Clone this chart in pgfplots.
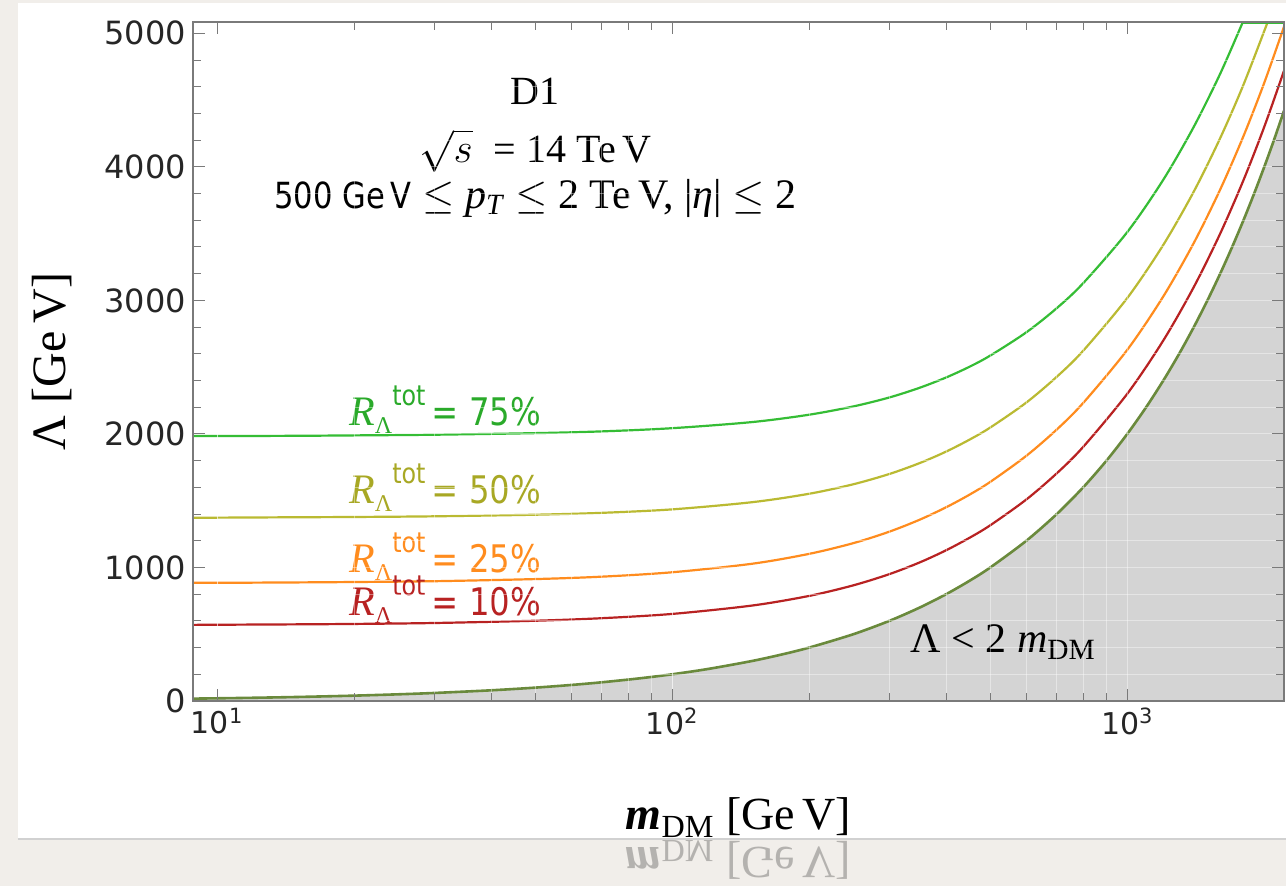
\documentclass[border=0pt]{standalone}
\usepackage{fontspec}
\setmainfont{Liberation Serif}
\setsansfont{DejaVu Sans}
\newfontfamily\condsans[FakeStretch=0.85]{DejaVu Sans}
\usepackage{amsmath}
\usepackage{pgfplots}
\pgfplotsset{compat=1.18}
\definecolor{cgreen}{HTML}{35BD35}
\definecolor{cgreenT}{HTML}{2AAA2A}
\definecolor{cyellow}{HTML}{BABA32}
\definecolor{cyellowT}{HTML}{A8A824}
\definecolor{corange}{HTML}{FF8C1E}
\definecolor{cred}{HTML}{B82222}
\definecolor{cdark}{HTML}{6A8A3C}
\definecolor{cfill}{HTML}{D4D4D4}
\definecolor{bgpaper}{HTML}{F1EEEA}
\definecolor{framegray}{HTML}{7A7A7A}
\newcommand{\RL}[1]{{\fontsize{21}{21}\selectfont\textit{R}}\raisebox{-4pt}{\fontsize{12}{12}\selectfont Λ}\raisebox{10pt}{\condsans\fontsize{14}{14}\selectfont tot}{\condsans\fontsize{19}{19}\selectfont\,= #1\%}}
\begin{document}
\begin{tikzpicture}
\useasboundingbox (-96.5pt,-92.5pt) rectangle (546.5pt,350.5pt);
\fill[bgpaper] (-96.5pt,-92.5pt) rectangle (546.5pt,350.5pt);
\fill[white] (-87.5pt,-69pt) rectangle (546.5pt,349pt);
\draw[black!18, line width=0.7pt] (-87.5pt,-69pt) -- (546.5pt,-69pt);
\begin{scope}
\clip (-87.5pt,-69.4pt) rectangle (546.5pt,-92.5pt);
\node[yscale=-1, anchor=base, opacity=0.25, font=\fontsize{23}{23}\selectfont] at (272.75pt,-73.5pt) {\textbf{\textit{m}}\textsubscript{DM} [Ge\,V]};
\end{scope}
\begin{axis}[
  at={(0,0)}, anchor=south west,
  scale only axis, width=545.5pt, height=339.5pt,
  axis on top,
  xmode=log, xmin=8.85, xmax=2210, ymin=0, ymax=5085,
  axis line style={framegray, line width=0.6pt},
  tick style={framegray, line width=0.5pt},
  tick align=inside,
  major tick length=6pt, minor tick length=4pt,
  xtick={10,100,1000},
  xticklabels={10\textsuperscript{1},10\textsuperscript{2},10\textsuperscript{3}},
  ytick={0,1000,2000,3000,4000,5000},
  minor y tick num=4,
  grid=both,
  grid style={white, opacity=0.4, line width=0.5pt},
  /pgf/number format/1000 sep={},
  /pgf/number format/assume math mode=true,
  ticklabel style={font=\sffamily\fontsize{16}{16}\selectfont, black!85},
  xticklabel style={font=\sffamily\fontsize{15}{15}\selectfont},
  xlabel={\textbf{\textit{m}}\textsubscript{DM} [Ge\,V]},
  xlabel style={at={(axis description cs:0.5,-0.19)}, anchor=base, font=\fontsize{23}{23}\selectfont},
  ylabel={Λ [Ge\,V]},
  ylabel style={at={(axis description cs:-0.1292,0.5)}, anchor=center, font=\fontsize{24}{24}\selectfont},
]
% excluded region Lambda < 2 m_DM
\addplot[fill=cfill, draw=none] coordinates {
 (8.85,0) (8.85,17.7) (10,20) (12,24) (15,30) (20,40) (25,50) (30,60) (40,80) (50,100) (60,120) (70,140) (85,170) (100,200) (120,240) (150,300) (175,350) (200,400) (250,500) (300,600) (350,700) (400,800) (450,900) (500,1000) (600,1200) (700,1400) (800,1600) (900,1800) (1000,2000) (1100,2200) (1200,2400) (1300,2600) (1400,2800) (1500,3000) (1600,3200) (1700,3400) (1800,3600) (1900,3800) (2000,4000) (2100,4200) (2210,4420) (2210,0)} -- cycle;
\addplot[cdark, line width=1.3pt, smooth] coordinates {
 (8.85,17.7) (10,20) (12,24) (15,30) (20,40) (25,50) (30,60) (40,80) (50,100) (60,120) (70,140) (85,170) (100,200) (120,240) (150,300) (175,350) (200,400) (250,500) (300,600) (350,700) (400,800) (450,900) (500,1000) (600,1200) (700,1400) (800,1600) (900,1800) (1000,2000) (1100,2200) (1200,2400) (1300,2600) (1400,2800) (1500,3000) (1600,3200) (1700,3400) (1800,3600) (1900,3800) (2000,4000) (2100,4200) (2210,4420)};
% R = 10%
\addplot[cred, line width=1.1pt, smooth] coordinates {
 (8.85,570) (10,571) (15,574) (20,577) (30,584) (50,601) (70,620) (100,652) (150,715) (200,787) (250,866) (300,950) (350,1038) (400,1129) (450,1222) (500,1316) (600,1509) (700,1705) (800,1903) (1000,2301) (1200,2700) (1400,3100) (1600,3500) (1800,3900) (2000,4300) (2210,4720)};
% R = 25%
\addplot[corange, line width=1.1pt, smooth] coordinates {
 (8.85,885) (10,885) (15,888) (20,891) (30,897) (50,913) (70,931) (100,964) (150,1028) (200,1102) (250,1182) (300,1268) (350,1358) (400,1451) (450,1545) (500,1641) (600,1836) (700,2033) (800,2232) (1000,2630) (1200,3030) (1400,3430) (1600,3830) (1800,4230) (2000,4630) (2210,5050)};
% R = 50%
\addplot[cyellow, line width=1.1pt, smooth] coordinates {
 (8.85,1373) (10,1373) (15,1376) (20,1378) (30,1383) (50,1395) (70,1409) (100,1435) (150,1489) (200,1552) (250,1623) (300,1700) (350,1782) (400,1868) (450,1957) (500,2048) (600,2235) (700,2428) (800,2623) (1000,3018) (1200,3416) (1400,3815) (1600,4215) (1800,4615) (2032,5080)};
\addplot[cyellow, line width=1.1pt] coordinates {(2032,5080) (2210,5080)};
% R = 75%
\addplot[cgreen, line width=1.1pt, smooth] coordinates {
 (8.85,1984) (10,1984) (15,1986) (20,1989) (30,1994) (50,2006) (70,2019) (100,2043) (150,2089) (200,2144) (250,2206) (300,2273) (350,2346) (400,2423) (450,2503) (500,2587) (600,2761) (700,2942) (800,3129) (1000,3512) (1200,3904) (1400,4300) (1600,4697) (1792,5080)};
\addplot[cgreen, line width=1.1pt] coordinates {(1792,5080) (2210,5080)};
% labels
\node[anchor=base, cgreenT] at (axis cs:31.7,2061) {\RL{75}};
\node[anchor=base, cyellowT] at (axis cs:31.7,1480) {\RL{50}};
\node[anchor=base, corange] at (axis cs:31.7,960) {\RL{25}};
\node[anchor=base, cred] at (axis cs:31.7,637) {\RL{10}};
\node[anchor=base west, font=\fontsize{21}{21}\selectfont] at (axis cs:322,360) {Λ < 2 \textit{m}\textsubscript{DM}};
\node[anchor=base, font=\fontsize{20}{20}\selectfont] at (axis cs:50,4468) {D1};
\node[anchor=base, font=\fontsize{20}{20}\selectfont, inner sep=1pt] at (axis cs:50,4035) {$\sqrt{s}$\; = 14 Te\,V};
\node[anchor=base, font=\fontsize{21}{21}\selectfont, inner sep=1pt] at (axis cs:50,3690) {{\condsans\fontsize{18}{18}\selectfont 500 Ge\,V} $\leq$ \textit{p}\textsubscript{\textit{T}} $\leq$ 2 Te\,V, |\textit{η}| $\leq$ 2};
\end{axis}
\end{tikzpicture}
\end{document}
